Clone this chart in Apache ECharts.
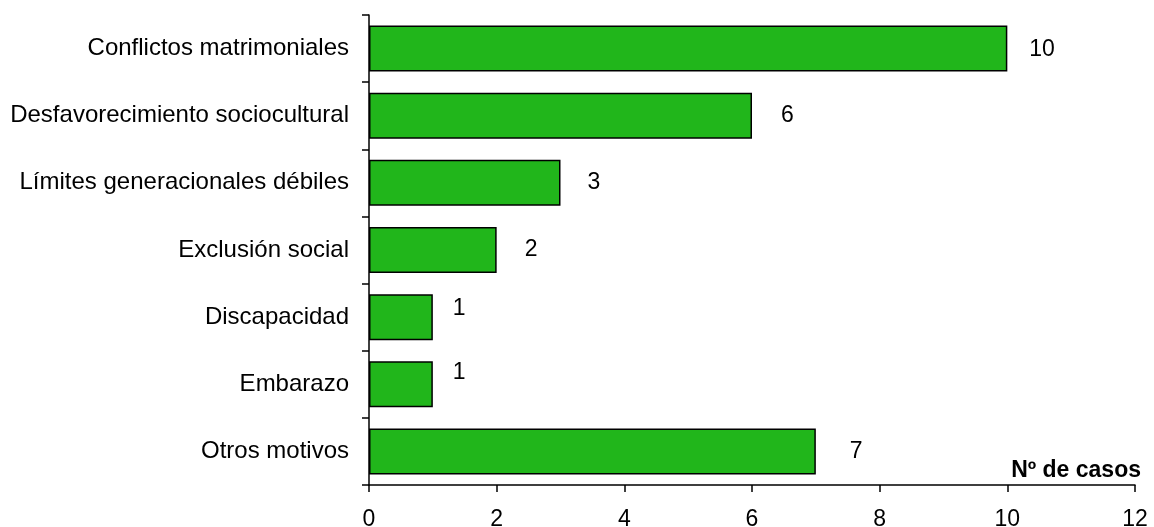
<!DOCTYPE html>
<html>
<head>
<meta charset="utf-8">
<script src="https://cdn.jsdelivr.net/npm/echarts@6/dist/echarts.min.js"></script>
<style>
  html, body { margin: 0; padding: 0; background: #fff; }
  #chart { width: 1154px; height: 527px; }
</style>
</head>
<body>
<div id="chart"></div>
<script>
// Motivos y número de casos
const categories = [
  'Conflictos matrimoniales',
  'Desfavorecimiento sociocultural',
  'Límites generacionales débiles',
  'Exclusión social',
  'Discapacidad',
  'Embarazo',
  'Otros motivos'
];
const casos = [10, 6, 3, 2, 1, 1, 7];
const xTicks = [0, 2, 4, 6, 8, 10, 12];
const axisTitle = 'Nº de casos';

const FONT = 'Liberation Sans, Arial, sans-serif';

// Label placement beside each bar: [gap from bar end, vertical shift]
const labelPlacement = [[22, 1], [29, 0], [27, 0], [28, 0], [20, -8], [20, -12], [34, 0]];

const chart = echarts.init(document.getElementById('chart'), null, { renderer: 'canvas' });

const seriesData = casos.map((v, i) => ({
  value: v,
  label: {
    distance: labelPlacement[i][0],
    offset: [0, labelPlacement[i][1]]
  }
}));

chart.setOption({
  animation: false,
  backgroundColor: '#ffffff',
  grid: {
    left: 369, right: 19, top: 15, bottom: 42,
    containLabel: false,
    outerBoundsMode: 'none'
  },
  title: {
    text: axisTitle,
    right: 8,
    top: 454,
    textStyle: { fontFamily: FONT, fontSize: 23, fontWeight: 'bold', color: '#000' }
  },
  xAxis: {
    type: 'value',
    min: xTicks[0],
    max: xTicks[xTicks.length - 1],
    interval: xTicks[1] - xTicks[0],
    axisLine: { show: true, lineStyle: { color: '#000', width: 1.5 } },
    axisTick: { show: true, length: 7, lineStyle: { color: '#000', width: 1.5 } },
    splitLine: { show: false },
    axisLabel: { fontFamily: FONT, fontSize: 23, color: '#000', margin: 23 }
  },
  yAxis: {
    type: 'category',
    inverse: true,
    data: categories,
    axisLine: { show: true, lineStyle: { color: '#000', width: 1.5 } },
    axisTick: { show: true, length: 7, lineStyle: { color: '#000', width: 1.5 } },
    axisLabel: { fontFamily: FONT, fontSize: 24, color: '#000', margin: 20 }
  },
  series: [{
    type: 'bar',
    data: seriesData,
    barCategoryGap: '31.5%',
    itemStyle: { color: '#21B61B', borderColor: '#000', borderWidth: 1.5 },
    label: {
      show: true,
      position: 'right',
      fontFamily: FONT,
      fontSize: 23,
      color: '#000'
    }
  }]
});
</script>
</body>
</html>
